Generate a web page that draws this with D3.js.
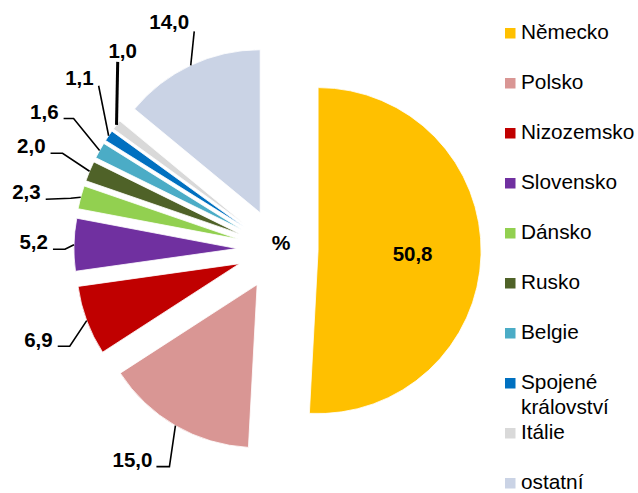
<!DOCTYPE html>
<html>
<head>
<meta charset="utf-8">
<script src="https://cdn.jsdelivr.net/npm/d3@7/dist/d3.min.js"></script>
<style>
  html, body { margin: 0; padding: 0; background: #fff; }
  svg { display: block; font-family: "Liberation Sans", Arial, sans-serif; }
</style>
</head>
<body>
<svg id="chart" width="638" height="493"></svg>
<script>
// ---- data ----
const categories = ["Německo", "Polsko", "Nizozemsko", "Slovensko", "Dánsko", "Rusko", "Belgie", "Spojené království", "Itálie", "ostatní"];
const values = [50.8, 15.0, 6.9, 5.2, 2.3, 2.0, 1.6, 1.1, 1.0, 14.0];
const valueLabels = ["50,8", "15,0", "6,9", "5,2", "2,3", "2,0", "1,6", "1,1", "1,0", "14,0"];
const colors = ["#FFC000", "#D99694", "#C00000", "#7030A0", "#92D050", "#4F6228", "#4BACC6", "#0070C0", "#D9D9D9", "#CAD3E5"];
const centerLabel = "%";

// ---- layout ----
const W = 638, H = 493;
const cx = 277.5, cy = 249.5, R = 163, explode = 40.6;
const labelSize = 20.5, legendSize = 20.8;
// leader geometry relative to outer point of each slice: [elbowDx, elbowDy, startDx, startDy]
const leaderLayout = [
  null,
  [-6, 41, -19, 41],
  [-17, 25.6, -29, 25.6],
  [-9, 4.6, -21, 4.6],
  [-10, 1, -35, 2],
  [-27, -18, -39, -18],
  [-26, -32, -36, -32],
  [-10, -50, -10, -50],
  [1.2, -63, 1.2, -63],
  [3.5, -34, 3.5, -34]
];
// text placement relative to leader start: [dx, dy, anchor]
const textLayout = [
  null,
  [-4, 0, "end"],
  [-5, 1, "end"],
  [-5, 0, "end"],
  [-5, 0, "end"],
  [-5, 0, "end"],
  [-5, 1, "end"],
  [-5, -1, "end"],
  [5, -4, "middle"],
  [-5, -2, "end"]
];

const svg = d3.select("#chart");

const pie = d3.pie().sort(null).value(d => d).startAngle(0).endAngle(2 * Math.PI);
const arcs = pie(values);
const arcGen = d3.arc().innerRadius(0).outerRadius(R);

const g = svg.append("g").attr("transform", `translate(${cx},${cy})`);

function dir(a) { return [Math.sin(a), -Math.cos(a)]; }

g.selectAll("path.slice")
  .data(arcs)
  .join("path")
  .attr("class", "slice")
  .attr("d", arcGen)
  .attr("fill", (d, i) => colors[i])
  .attr("stroke", "#fff")
  .attr("stroke-width", 0.8)
  .attr("transform", d => {
    const m = (d.startAngle + d.endAngle) / 2;
    const [sx, sy] = dir(m);
    return `translate(${sx * explode},${sy * explode})`;
  });

// value labels
arcs.forEach((d, i) => {
  const m = (d.startAngle + d.endAngle) / 2;
  const [sx, sy] = dir(m);
  if (i === 0) {
    const rr = explode + R * 0.58;
    g.append("text")
      .attr("x", sx * rr)
      .attr("y", sy * rr)
      .attr("text-anchor", "middle")
      .attr("dominant-baseline", "central")
      .attr("font-size", labelSize)
      .attr("font-weight", "bold")
      .attr("fill", "#000")
      .text(valueLabels[i]);
    return;
  }
  const ox = cx + sx * (explode + R), oy = cy + sy * (explode + R);
  const L = leaderLayout[i];
  const ex = ox + L[0], ey = oy + L[1], stx = ox + L[2], sty = oy + L[3];
  svg.append("polyline")
    .attr("points", `${stx},${sty} ${ex},${ey} ${ox},${oy}`)
    .attr("fill", "none")
    .attr("stroke", "#000")
    .attr("stroke-width", i === 8 ? 3 : 1.6);
  const T = textLayout[i];
  svg.append("text")
    .attr("x", stx + T[0])
    .attr("y", sty + T[1])
    .attr("text-anchor", T[2])
    .attr("font-size", labelSize)
    .attr("font-weight", "bold")
    .attr("fill", "#000")
    .text(valueLabels[i]);
});

// center label
svg.append("text")
  .attr("x", 281)
  .attr("y", 250)
  .attr("text-anchor", "middle")
  .attr("font-size", 21)
  .attr("font-weight", "bold")
  .attr("fill", "#000")
  .text(centerLabel);

// legend
const legY = d3.scaleLinear().domain([0, categories.length - 1]).range([39, 489]);
const leg = svg.append("g");
categories.forEach((c, i) => {
  const y = legY(i);
  leg.append("rect")
    .attr("x", 505).attr("y", y - 11)
    .attr("width", 10.5).attr("height", 10.5)
    .attr("fill", colors[i]);
  const t = leg.append("text")
    .attr("x", 521).attr("y", y)
    .attr("font-size", legendSize)
    .attr("fill", "#000");
  const words = c.split(" ");
  if (words.length > 1) {
    words.forEach((w, k) => {
      t.append("tspan").attr("x", 521).attr("dy", k === 0 ? 0 : 25).text(w);
    });
  } else {
    t.text(c);
  }
});
</script>
</body>
</html>
